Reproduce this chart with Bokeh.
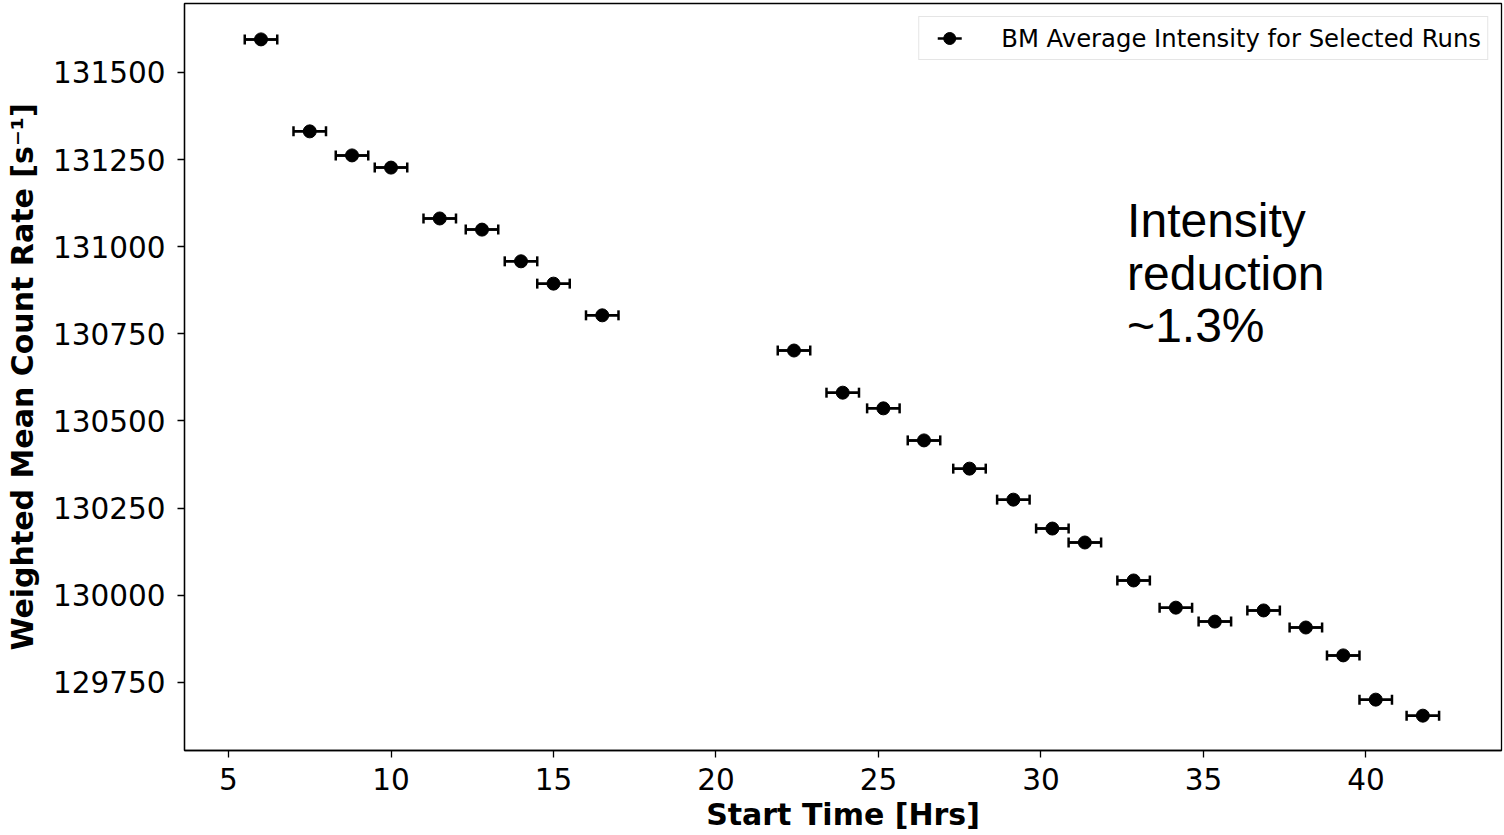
from bokeh.plotting import figure
from bokeh.models import (ColumnDataSource, FixedTicker, Range1d, Legend, LegendItem, Label,
                          Whisker, TeeHead, NumeralTickFormatter)
from bokeh.embed import file_html
from bokeh.resources import INLINE

# Data
start_time = [6.0, 7.5, 8.8, 10.0, 11.5, 12.8, 14.0, 15.0, 16.5, 22.4, 23.9, 25.15,
              26.4, 27.8, 29.15, 30.35, 31.35, 32.85, 34.15, 35.35, 36.85, 38.15,
              39.3, 40.3, 41.75]
count_rate = [131595, 131331, 131262, 131227, 131081, 131049, 130958, 130894, 130803,
              130702, 130581, 130536, 130444, 130363, 130274, 130191, 130151, 130042,
              129964, 129924, 129956, 129907, 129827, 129700, 129654]
time_err = [0.5] * len(start_time)
rate_err = [8] * len(start_time)

x_ticks = [5, 10, 15, 20, 25, 30, 35, 40]
y_ticks = [129750, 130000, 130250, 130500, 130750, 131000, 131250, 131500]

legend_label = "BM Average Intensity for Selected Runs"
note_lines = ["Intensity", "reduction", "~1.3%"]
note_x = 32.65
note_y = [131075, 130923, 130774]

src = ColumnDataSource(dict(
    x=start_time, y=count_rate,
    xl=[a - e for a, e in zip(start_time, time_err)],
    xu=[a + e for a, e in zip(start_time, time_err)],
    yl=[a - e for a, e in zip(count_rate, rate_err)],
    yu=[a + e for a, e in zip(count_rate, rate_err)],
))

p = figure(width=1504, height=835, output_backend="svg", toolbar_location=None,
           x_range=Range1d(3.646, 44.17), y_range=Range1d(129554, 131698),
           min_border_left=184, min_border_right=3, min_border_top=3, min_border_bottom=85)
p.background_fill_color = "white"
p.border_fill_color = "white"
p.outline_line_color = "black"
p.outline_line_width = 1.3
p.xgrid.visible = False
p.ygrid.visible = False

for ax in (p.xaxis[0], p.yaxis[0]):
    ax.axis_line_color = "black"
    ax.axis_line_width = 1.3
    ax.major_tick_line_color = "black"
    ax.major_tick_line_width = 1.3
    ax.major_tick_out = 7
    ax.major_tick_in = 0
    ax.minor_tick_line_color = None
    ax.major_label_text_font = "DejaVu Sans"
    ax.major_label_text_font_size = "29.5px"
    ax.major_label_text_color = "black"
    ax.axis_label_text_font = "DejaVu Sans"
    ax.axis_label_text_font_style = "bold"
    ax.axis_label_text_font_size = "30px"
    ax.axis_label_text_color = "black"

p.xaxis.ticker = FixedTicker(ticks=x_ticks)
p.yaxis.ticker = FixedTicker(ticks=y_ticks)
p.yaxis.formatter = NumeralTickFormatter(format="0")
p.xaxis.axis_label = "Start Time [Hrs]"
p.yaxis.axis_label = "Weighted Mean Count Rate [s\u207b\u00b9]"
p.xaxis.major_label_standoff = 10
p.yaxis.major_label_standoff = 12
p.xaxis.axis_label_standoff = 4
p.yaxis.axis_label_standoff = 10

# error bars
hseg = p.segment(x0="xl", y0="y", x1="xu", y1="y", source=src, line_color="black", line_width=2.5)
vseg = p.segment(x0="x", y0="yl", x1="x", y1="yu", source=src, line_color="black", line_width=2.5)
wh = Whisker(base="y", lower="xl", upper="xu", dimension="width", source=src,
             line_color="black", line_width=2.5,
             lower_head=TeeHead(size=10, line_color="black", line_width=2.5),
             upper_head=TeeHead(size=10, line_color="black", line_width=2.5))
p.add_layout(wh)
pts = p.scatter(x="x", y="y", source=src, size=13, fill_color="black", line_color="black")

# legend-only error bar stroke (NaN data, dashed so only the middle part shows)
leg_src = ColumnDataSource(dict(x=[float("nan")], y=[float("nan")]))
leg_bar = p.segment(x0="x", y0="y", x1="x", y1="y", source=leg_src, line_color="black",
                    line_width=2.5, line_dash="0 12 24 60")

legend = Legend(items=[LegendItem(label=legend_label, renderers=[leg_bar, pts])],
                location="top_right", margin=13, padding=6, spacing=0,
                label_text_font="DejaVu Sans", label_text_font_size="24.3px",
                label_text_color="black", glyph_width=48, glyph_height=30,
                label_standoff=28, border_line_color="#cccccc", border_line_width=1,
                background_fill_alpha=0.8)
p.add_layout(legend)

for line, yv in zip(note_lines, note_y):
    p.add_layout(Label(x=note_x, y=yv, text=line, text_font="Liberation Sans",
                       text_font_size="48px", text_color="black",
                       text_baseline="alphabetic"))

open("out.html", "w").write(file_html(p, INLINE))
